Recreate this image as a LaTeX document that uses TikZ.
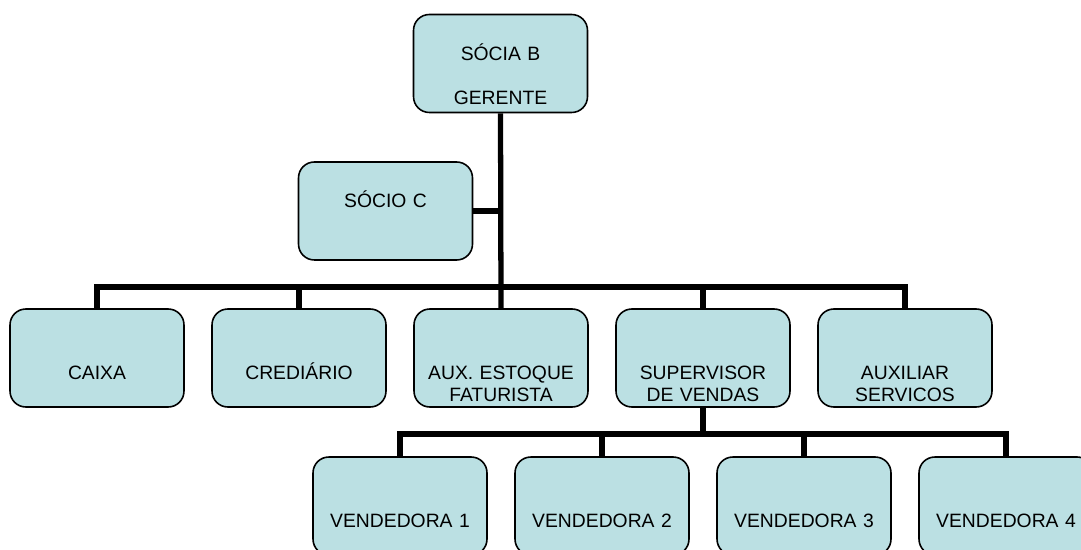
\documentclass[tikz,border=0pt]{standalone}
\usepackage{fontspec}
\setmainfont{Liberation Sans}
\definecolor{orgfill}{RGB}{187,224,227}

\tikzstyle{block} = [rectangle, draw, line width=0.9pt, fill=orgfill, rounded corners=9pt, inner sep=0pt, text width=3.48cm, align=center, text height=1.42cm, text depth=0.54cm, font=\fontsize{11}{12.5}\selectfont]
\tikzstyle{upper} = [block, text height=0.92cm, text depth=1.04cm]
\tikzstyle{link} = [draw, line width=3pt]

\begin{document}
\begin{tikzpicture}[x=0.02cm, y=-0.02cm]
        \useasboundingbox (0,0) rectangle (1081,550);
        % Top of the chart
        \node (socia) at (500.5,63.5) [upper] {SÓCIA B\\[12.5pt]GERENTE};
        \node (socio) at (385.5,211) [upper] {SÓCIO C};
        % Second level
        \node (caixa) at (97,358) [block] {CAIXA};
        \node (crediario) at (299,358) [block] {CREDIÁRIO};
        \node (estoque) at (501,358) [block] {AUX. ESTOQUE\\FATURISTA};
        \node (supervisor) at (703,358) [block] {SUPERVISOR\\DE VENDAS};
        \node (auxiliar) at (905,358) [block] {AUXILIAR\\SERVICOS};
        % Sales team
        \node (vend1) at (400,506) [block] {VENDEDORA 1};
        \node (vend2) at (602,506) [block] {VENDEDORA 2};
        \node (vend3) at (804,506) [block] {VENDEDORA 3};
        \node (vend4) at (1006,506) [block] {VENDEDORA 4};

        \coordinate (bus1) at (501,287);
        \coordinate (bus2) at (703,434);

        \draw[link] (socia.south) -- (estoque.north);
        \draw[link] (socio.east) -- (socio.east -| bus1);
        \draw[link] (caixa.north) |- (bus1) -| (auxiliar.north);
        \draw[link] (crediario.north) -- (crediario.north |- bus1);
        \draw[link] (supervisor.north) -- (supervisor.north |- bus1);

        \draw[link] (supervisor.south) -- (bus2);
        \draw[link] (vend1.north) |- (bus2) -| (vend4.north);
        \draw[link] (vend2.north) -- (vend2.north |- bus2);
        \draw[link] (vend3.north) -- (vend3.north |- bus2);
    \end{tikzpicture}
\end{document}
